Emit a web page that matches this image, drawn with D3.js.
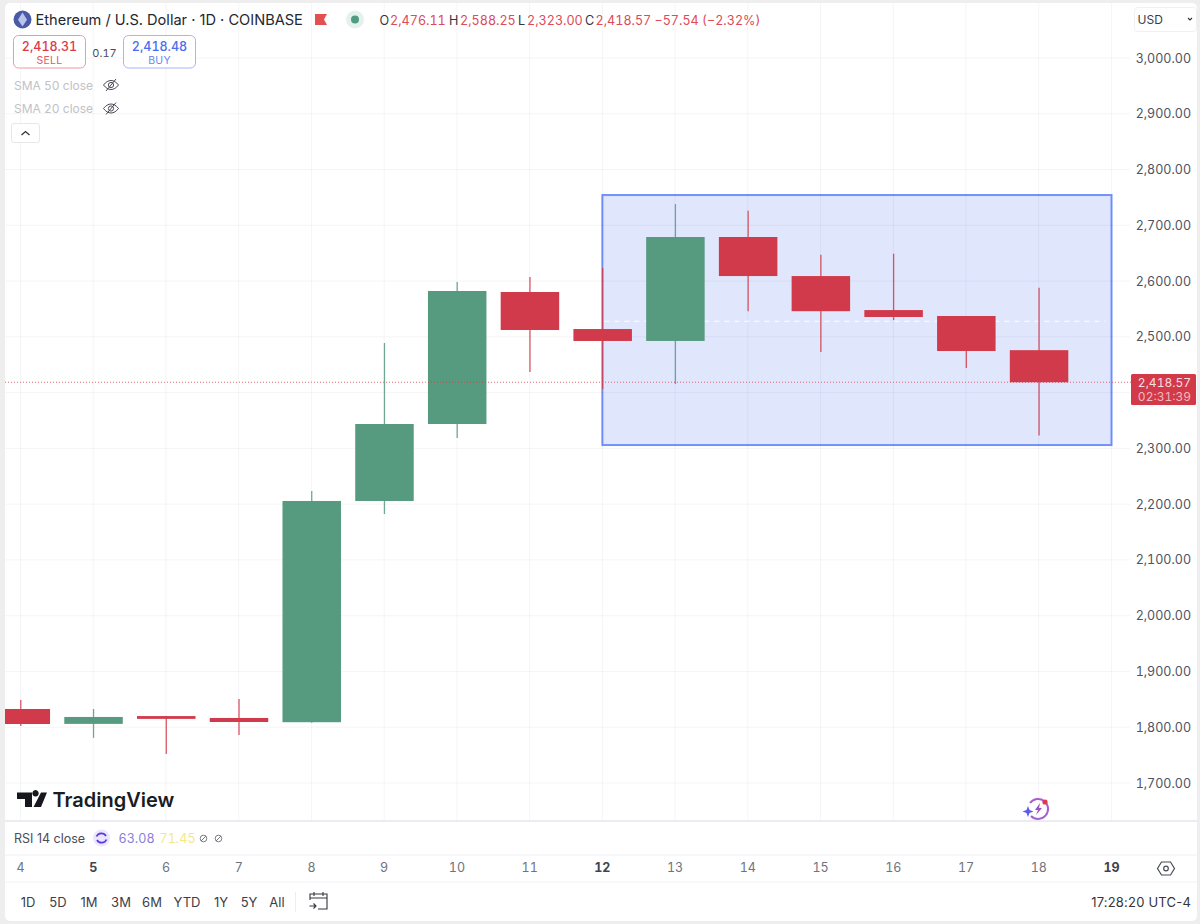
<!DOCTYPE html>
<html><head><meta charset="utf-8">
<style>html,body{margin:0;padding:0;background:#fff}svg{display:block}text{font-family:Inter,"Noto Sans",sans-serif;font-feature-settings:"tnum"}</style>
<script src="https://cdn.jsdelivr.net/npm/d3@7"></script>
</head><body><svg id="c" width="1200" height="924"></svg>
<script>
const days=[4,5,6,7,8,9,10,11,12,13,14,15,16,17,18];
const opens =[1832.7,1806,1820,1816.6,1809,2205.7,2343.7,2580.4,2514,2492.6,2679,2609,2548,2537.4,2476.11];
const highs =[1848.9,1832.7,1820,1850.6,2223.6,2489,2598.4,2607.3,2623.5,2738,2726,2647,2649,2537.4,2588.25];
const lows  =[1802,1781,1752,1786,1808,2182.4,2318.6,2437,2406.5,2415.5,2546,2473,2530,2444,2323];
const closes=[1805.8,1818.4,1815,1809.4,2205.7,2343.7,2582.2,2512.3,2492.6,2679,2609,2546,2535.6,2474.6,2418.57];
const priceTicks=[1700,1800,1900,2000,2100,2200,2300,2400,2500,2600,2700,2800,2900,3000];
const hiddenPriceLabels=[2400]; // covered by the last-price tag in the reference
const dayTicks=[4,5,6,7,8,9,10,11,12,13,14,15,16,17,18,19];
const boldDays=[5,12,19];
const rangeLabels=["1D","5D","1M","3M","6M","YTD","1Y","5Y","All"];
const rangeX=[28,58,89,121,152,187,221,249,277];
const box={d0:12,d1:19,p0:2306,p1:2754.3};
const lastPrice=2418.57, bidLine=2528;

const UP="#569a80",DOWN="#d13a4a",TXT="#4f535e";
const svg=d3.select("#c");
const x=d3.scaleLinear().domain([4,19]).range([20.5,1111.5]);
const y=d3.scaleLinear().domain([1700,3000]).range([783,58]);
const bodyW=58.5;

svg.append("rect").attr("width",1200).attr("height",924).attr("fill","#eeeeef");
svg.append("rect").attr("x",5).attr("y",3).attr("width",1192).attr("height",918).attr("rx",5).attr("fill","#fff");

const plot=svg.append("g");
const clip=svg.append("defs").append("clipPath").attr("id","pane");
clip.append("rect").attr("x",5).attr("y",3).attr("width",1125).attr("height",818);

plot.append("rect").attr("x",x(box.d0)).attr("y",y(box.p1)).attr("width",x(box.d1)-x(box.d0)).attr("height",y(box.p0)-y(box.p1))
  .attr("fill","#e0e6fc").attr("stroke","#7392fa").attr("stroke-width",2);

plot.append("g").attr("fill","none").selectAll("line").data(dayTicks).join("line")
  .attr("x1",d=>x(d)).attr("x2",d=>x(d)).attr("y1",3).attr("y2",821).attr("stroke","#0b1b4a").attr("stroke-opacity",.045);
plot.append("g").selectAll("line").data(priceTicks).join("line")
  .attr("x1",5).attr("x2",1130).attr("y1",d=>y(d)).attr("y2",d=>y(d)).attr("stroke","#0b1b4a").attr("stroke-opacity",.045);

plot.append("line").attr("x1",x(box.d0)+2).attr("x2",x(box.d1)-6).attr("y1",y(bidLine)).attr("y2",y(bidLine))
  .attr("stroke","#fff").attr("stroke-width",1.2).attr("stroke-dasharray","5 5");

const data=days.map((d,i)=>({d,o:opens[i],h:highs[i],l:lows[i],c:closes[i]}));
const cg=plot.append("g").attr("clip-path","url(#pane)");
cg.selectAll(".wick").data(data).join("line").attr("class","wick")
  .attr("x1",d=>x(d.d)+.3).attr("x2",d=>x(d.d)+.3).attr("y1",d=>y(d.h)).attr("y2",d=>y(d.l))
  .attr("stroke",d=>d.c>=d.o?UP:DOWN).attr("stroke-width",1.3).attr("stroke-opacity",.85);
cg.selectAll(".body").data(data).join("rect").attr("class","body")
  .attr("x",d=>x(d.d)+.3-bodyW/2).attr("width",bodyW)
  .attr("y",d=>y(Math.max(d.o,d.c))).attr("height",d=>Math.abs(y(d.o)-y(d.c)))
  .attr("fill",d=>d.c>=d.o?UP:DOWN);

plot.append("line").attr("x1",5).attr("x2",1131).attr("y1",y(lastPrice)).attr("y2",y(lastPrice))
  .attr("stroke","#d43a49").attr("stroke-width",1).attr("stroke-opacity",.75).attr("stroke-dasharray","1 2");

const ax=d3.axisRight(y).tickValues(priceTicks.filter(p=>!hiddenPriceLabels.includes(p))).tickSize(0).tickFormat(d3.format(",.2f"));
const axG=svg.append("g").attr("transform","translate(1131,0)").call(ax);
axG.select(".domain").remove();
axG.selectAll("text").attr("x",60).attr("text-anchor","end").attr("fill",TXT)
  .style("font-family","Inter").style("font-size","12.5px");

svg.append("rect").attr("x",1131).attr("y",374).attr("width",65).attr("height",31).attr("rx",1.5).attr("fill","#d23a4a");
const t1=svg.append("g").attr("text-anchor","end");
t1.append("text").attr("x",1191).attr("y",386.5).attr("font-size",12).attr("fill","#f6dfe1").text(d3.format(",.2f")(lastPrice));
t1.append("text").attr("x",1191).attr("y",400.5).attr("font-size",12).attr("fill","#f0b9bf").text("02:31:39");

[[821,"#e4e5ec",1.5],[855,"#eeeff2",1],[882,"#f0f1f4",1]].forEach(([yy,c,w])=>svg.append("line").attr("x1",5).attr("x2",1197).attr("y1",yy).attr("y2",yy).attr("stroke",c).attr("stroke-width",w));

const xAxis=d3.axisBottom(x).tickValues(dayTicks).tickSize(0).tickFormat(d3.format("d"));
const xg=svg.append("g").attr("transform","translate(-.5,860)").call(xAxis);
xg.select(".domain").remove();
xg.selectAll("text").attr("y",3).attr("dy",".71em").attr("fill",d=>boldDays.includes(d)?"#3f434e":"#6f737d")
  .style("font-family","Inter").style("font-size","12.5px").style("font-weight",d=>boldDays.includes(d)?700:400);

const T=(xx,yy,s,size,fill,extra={})=>{const e=svg.append("text").attr("x",xx).attr("y",yy).attr("font-size",size).attr("fill",fill).text(s);Object.entries(extra).forEach(([k,v])=>e.attr(k,v));return e;};
const PROP='font-feature-settings:normal';
svg.append("circle").attr("cx",22.5).attr("cy",19.5).attr("r",9).attr("fill","#4b5aa6");
svg.append("path").attr("d","M22.5 12.5L27 19.8L22.5 26.5L18 19.8Z").attr("fill","#b9c4ee");
T(35.5,25,"Ethereum / U.S. Dollar · 1D · COINBASE",14.6,"#24272f",{style:PROP});
svg.append("path").attr("d","M315 14H327L324 19.5L327 25H315Z").attr("fill","#e25050");
svg.append("circle").attr("cx",355).attr("cy",19.5).attr("r",9).attr("fill","#e4f1ec");
svg.append("circle").attr("cx",355).attr("cy",19.5).attr("r",4).attr("fill","#4f9c81");
const R="#dd4a58",D="#33363f";
[[379.5,"O",D],[390,"2,476.11",R],[449,"H",D],[460,"2,588.25",R],[518,"L",D],[527,"2,323.00",R],[585,"C",D],[595.5,"2,418.57",R],[654.5,"−57.54 (−2.32%)",R]]
  .forEach(([xx,s,c])=>T(xx,25,s,12.6,c));

svg.append("rect").attr("x",13.5).attr("y",35.5).attr("width",72).attr("height",32.5).attr("rx",5).attr("fill","#fff").attr("stroke","#ee9aa2");
T(49.5,51,"2,418.31",12.5,"#dc3a4a",{"text-anchor":"middle","font-weight":500});
T(49.5,64,"SELL",10.5,"#e0596a",{"text-anchor":"middle","letter-spacing":".3"});
T(104.5,56.5,"0.17",11,"#4a4e5a",{"text-anchor":"middle"});
svg.append("rect").attr("x",123.5).attr("y",35.5).attr("width",72).attr("height",32.5).attr("rx",5).attr("fill","#fff").attr("stroke","#a5b6f6");
T(159.5,51,"2,418.48",12.5,"#4a6cf0",{"text-anchor":"middle","font-weight":500});
T(159.5,64,"BUY",10.5,"#6d89ef",{"text-anchor":"middle","letter-spacing":".3"});

[["SMA 50 close",85],["SMA 20 close",108.5]].forEach(([s,yy])=>{
  T(14,yy+4.5,s,12,"#c0c2c7");
  const g=svg.append("g").attr("transform",`translate(111,${yy})`).attr("fill","none").attr("stroke","#4a4d55").attr("stroke-width",1);
  g.append("path").attr("d","M-7.5 0C-3 -6 3 -6 7.5 0C3 6 -3 6 -7.5 0Z");
  g.append("circle").attr("r",2.6);
  g.append("line").attr("x1",-5).attr("y1",6).attr("x2",5).attr("y2",-6);
});
svg.append("rect").attr("x",11.5).attr("y",123.5).attr("width",28).attr("height",19).attr("rx",2.5).attr("fill","#fff").attr("stroke","#e6e7ea");
svg.append("path").attr("d","M21.5 135L25.5 131.5L29.5 135").attr("fill","none").attr("stroke","#333").attr("stroke-width",1.3);

svg.append("rect").attr("x",1134.5).attr("y",7.5).attr("width",62).attr("height",24).attr("rx",3).attr("fill","#fff").attr("stroke","#f0f0f2");
T(1137.5,24,"USD",12,"#3a3d46");
svg.append("path").attr("d","M1188 18L1190 20L1192 18").attr("fill","none").attr("stroke","#333").attr("stroke-width",1.1);

svg.append("path").attr("d","M17 792.5H32V807H25V799H17ZM35.5 796.5a3.2 3.2 0 1 1 .01 0ZM41 792.5H47L41 807H33.5Z").attr("fill","#16181d");
T(52.5,806.5,"TradingView",20,"#1a1c22",{"font-weight":600,style:PROP});

const s=svg.append("g").attr("transform","translate(1038,809)");
s.append("path").attr("d","M-8 -6A10 10 0 1 1 -7 7").attr("fill","none").attr("stroke","#a65fd0").attr("stroke-width",2);
s.append("path").attr("d","M2 -6L-3 1H0L-2 6L4 -1H1Z").attr("fill","#9a52c8");
s.append("path").attr("d","M-10 -3L-8.5 1L-4.5 2.5L-8.5 4L-10 8L-11.5 4L-15.5 2.5L-11.5 1Z").attr("fill","#5e5bea");
s.append("circle").attr("cx",7).attr("cy",-7).attr("r",2.6).attr("fill","#e03a4a");

T(14,842.5,"RSI 14 close",12.5,"#4a4d57",{style:PROP});
svg.append("circle").attr("cx",101.5).attr("cy",838).attr("r",8.5).attr("fill","#ebe6fb");
svg.append("path").attr("d","M96.5 836.5A5.3 5.3 0 0 1 106 836M106.5 839.5A5.3 5.3 0 0 1 97 840").attr("fill","none").attr("stroke","#5b39e0").attr("stroke-width",1.7);
T(118.5,842.5,"63.08",12.6,"#8a80d8");
T(159.5,842.5,"71.45",12.6,"#f5e887");
[203.5,218.5].forEach(cx=>{const g=svg.append("g").attr("transform",`translate(${cx},838.5)`).attr("fill","none").attr("stroke","#6a6d75").attr("stroke-width",.9);
  g.append("circle").attr("r",3.3);g.append("line").attr("x1",-2.5).attr("y1",2.5).attr("x2",2.5).attr("y2",-2.5);});

svg.append("path").attr("d","M1161.5 862H1170.5L1174.5 868.5L1170.5 875H1161.5L1157.5 868.5Z").attr("fill","none").attr("stroke","#4a4d55").attr("stroke-width",1.2);
svg.append("circle").attr("cx",1166).attr("cy",868.5).attr("r",2.3).attr("fill","none").attr("stroke","#4a4d55").attr("stroke-width",1.2);

svg.append("g").selectAll("text").data(rangeLabels).join("text").attr("x",(d,i)=>rangeX[i]).attr("y",906.5)
  .attr("text-anchor","middle").attr("font-size",13).attr("fill","#3d4049").style("font-feature-settings","normal").text(d=>d);
svg.append("line").attr("x1",295.5).attr("x2",295.5).attr("y1",892).attr("y2",912).attr("stroke","#eceef0");
const cal=svg.append("g").attr("fill","none").attr("stroke","#33363d").attr("stroke-width",1.1);
cal.append("path").attr("d","M310 900V894H327V909H318M310 898H327M314 892V896M323 892V896M309.5 906H316M313.5 903.5L316 906L313.5 908.5");
T(1191,906.5,"17:28:20 UTC-4",13,"#33363e",{"text-anchor":"end","letter-spacing":".2",style:PROP});
</script></body></html>
